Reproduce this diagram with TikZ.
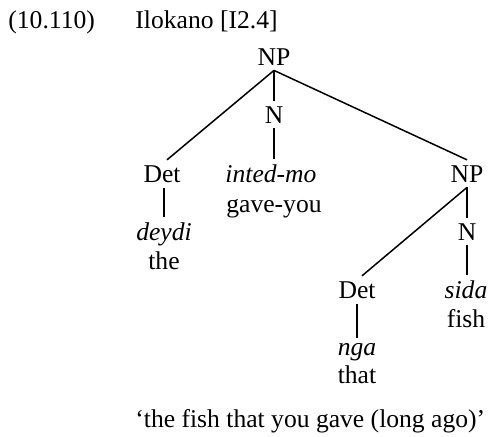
\documentclass[tikz,border=0pt]{standalone}
\usepackage{fontspec}
\setmainfont{Liberation Serif}
\begin{document}
\begin{tikzpicture}[x=0.5pt,y=-0.5pt,
  lbl/.style={anchor=base,inner sep=2.5pt,font=\fontsize{12.8}{15}\selectfont},
  lft/.style={lbl,anchor=base west,inner sep=0pt},
  edge/.style={line width=0.75pt}]
\useasboundingbox (0,0) rectangle (489,436);
% header
\node[lft] (num) at (8,28) {(10.110)};
\node[lft] (lang) at (135,28) {Ilokano [I2.4]};
% tree nodes
\node[lbl] (np1) at (274,65) {NP};
\node[lbl] (n1) at (274,123) {N};
\node[lbl] (det1) at (162,182) {Det};
\node[lbl] (w2) at (271,182) {\itshape inted-mo};
\node[lbl] (g2) at (274,212) {gave-you};
\node[lbl] (np2) at (467,182) {NP};
\node[lbl] (w1) at (164,240) {\itshape deydi};
\node[lbl] (g1) at (164,269) {the};
\node[lbl] (n2) at (467,240) {N};
\node[lbl] (det2) at (357,298) {Det};
\node[lbl] (w4) at (466,298) {\itshape sida};
\node[lbl] (g4) at (466,327) {fish};
\node[lbl] (w3) at (357,355) {\itshape nga};
\node[lbl] (g3) at (357,383) {that};
% translation
\node[lft] (tr) at (135,427) {‘the fish that you gave (long ago)’};
% branches
\draw[edge] (np1.south) -- ([xshift=2.5pt]det1.north);
\draw[edge] (np1.south) -- (n1.north);
\draw[edge] (np1.south) -- (np2.north);
\draw[edge] (n1.south) -- (n1.south |- w2.north);
\draw[edge] (w1.north |- det1.south) -- (w1.north);
\draw[edge] (np2.south) -- (n2.north);
\draw[edge] (np2.south) -- ([xshift=2.5pt]det2.north);
\draw[edge] (n2.south) -- (n2.south |- w4.north);
\draw[edge] (det2.south) -- (w3.north);
\end{tikzpicture}
\end{document}
